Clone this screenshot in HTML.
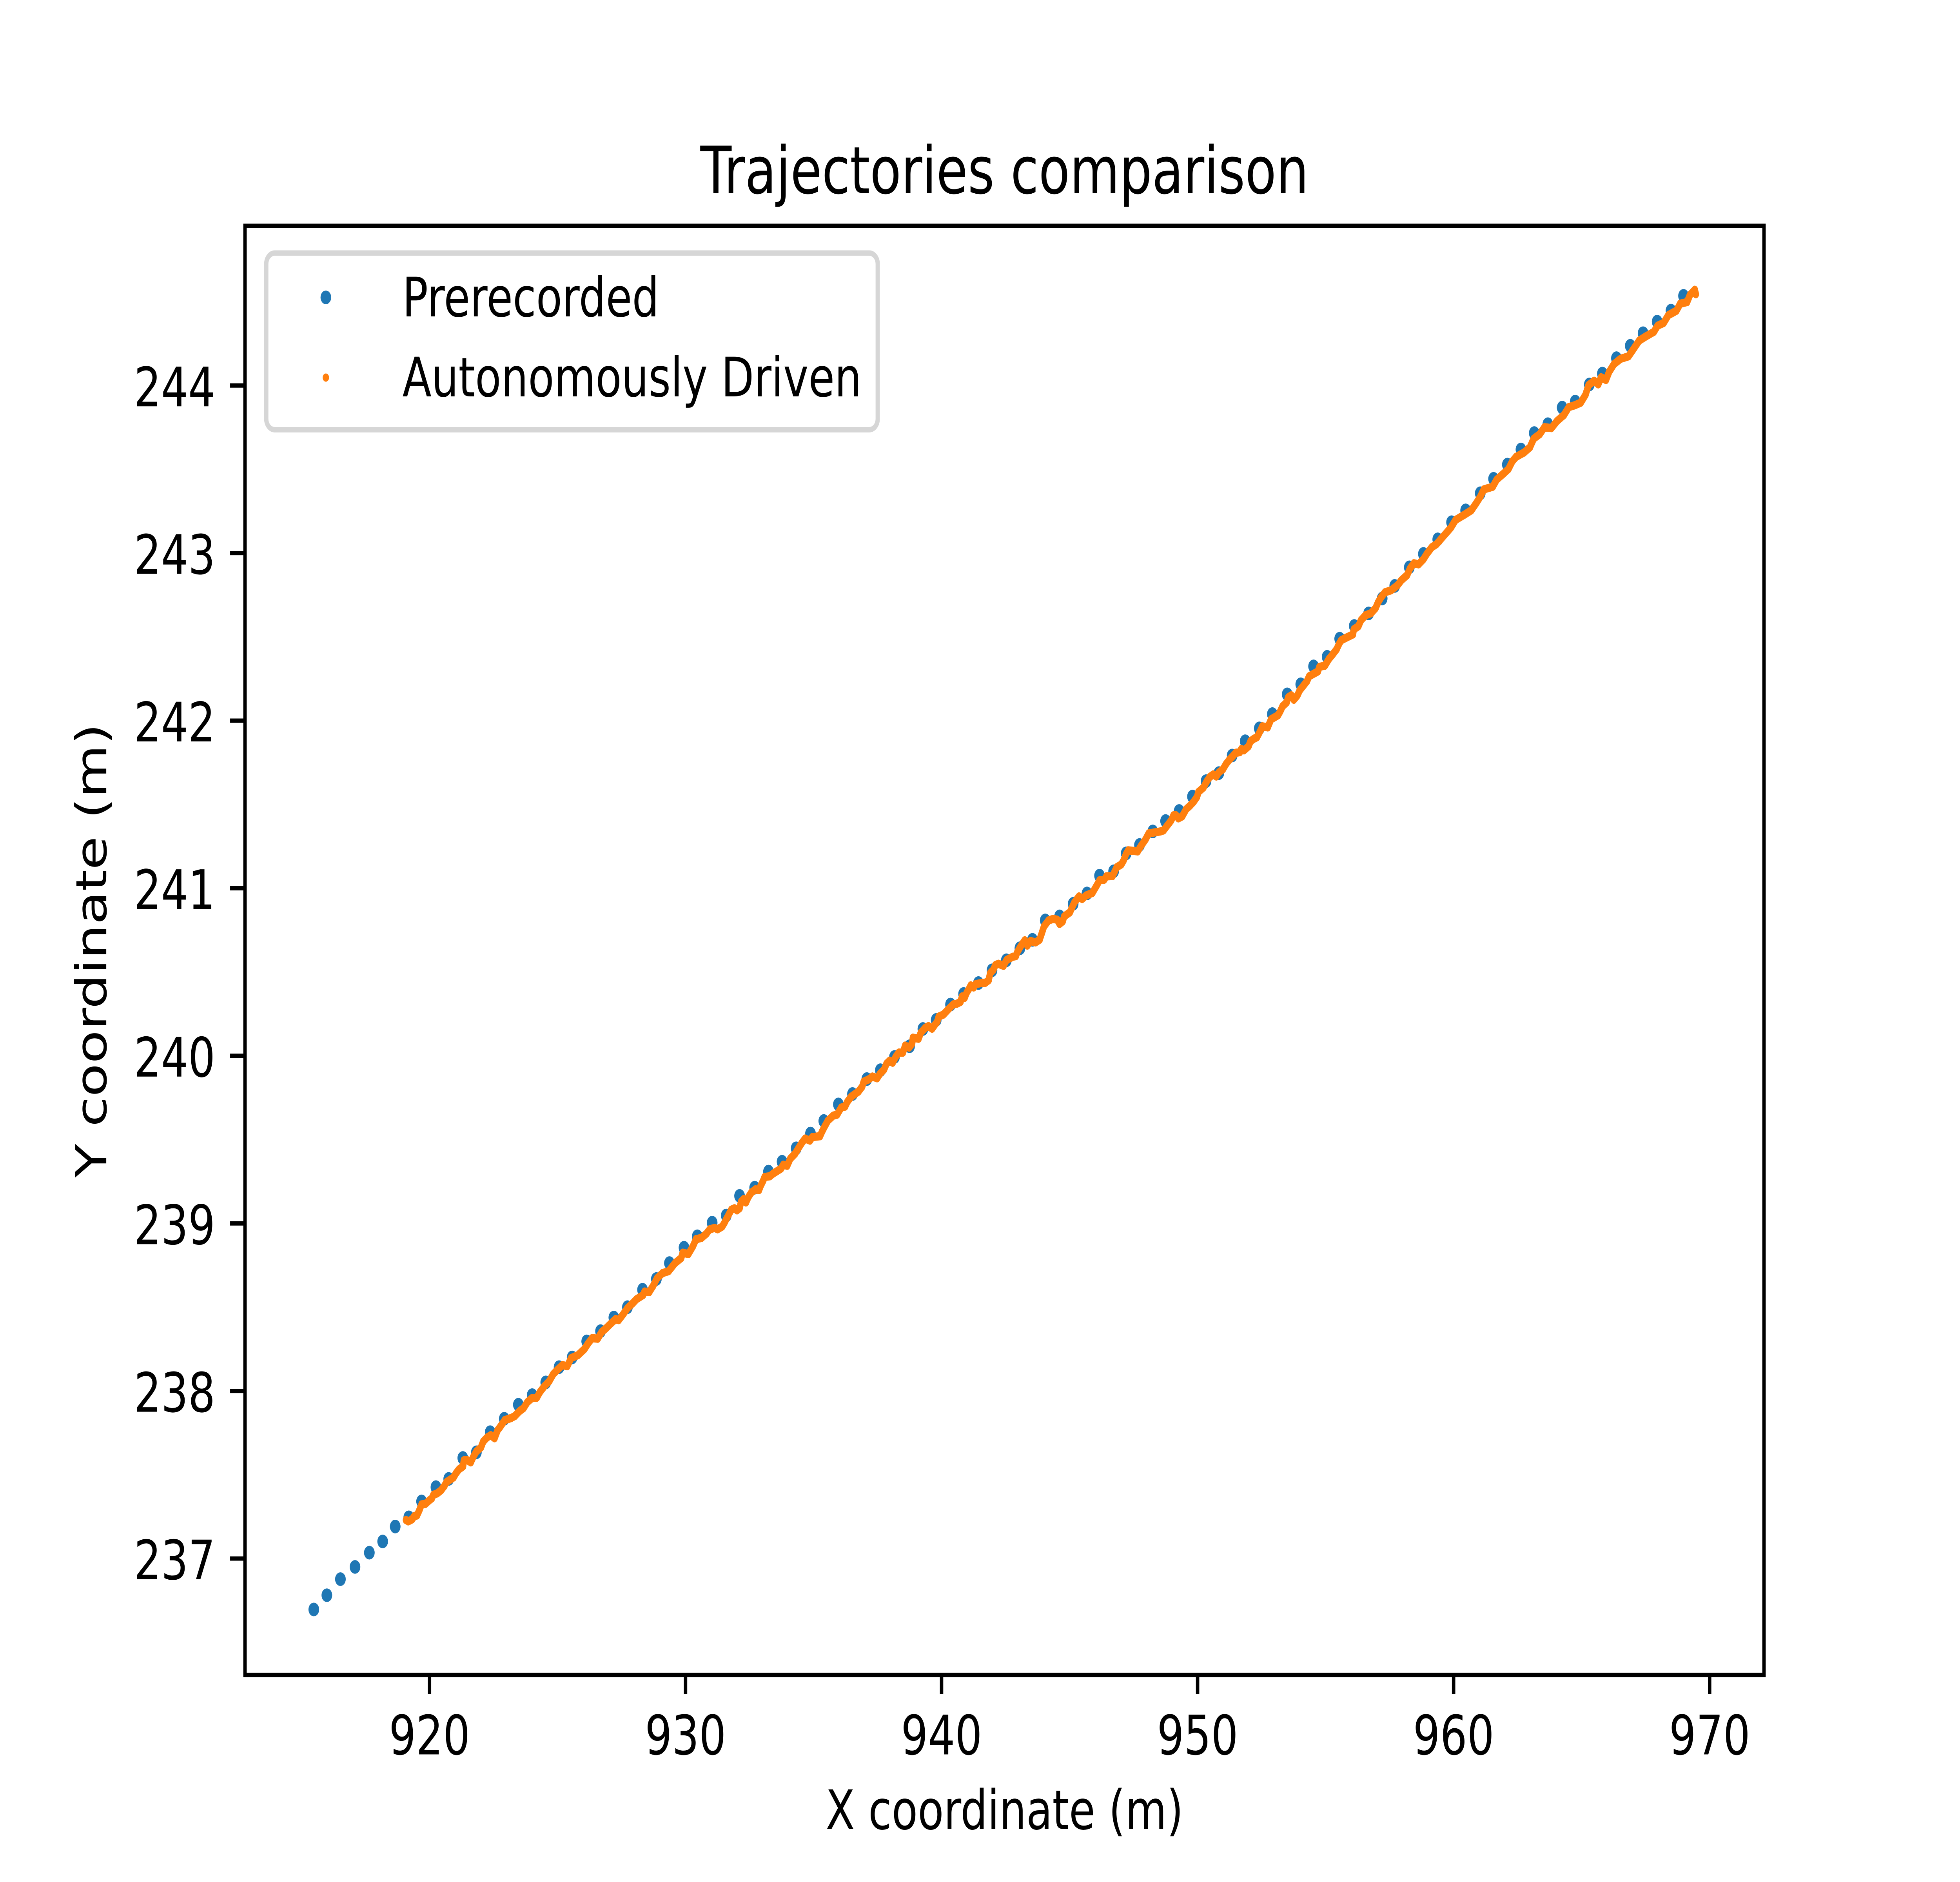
<!DOCTYPE html>
<html lang="en">
<head>
<meta charset="utf-8">
<title>Trajectories comparison</title>
<style>
html,body{margin:0;padding:0;background:#fff;width:100%;height:100%;overflow:hidden}
svg{display:block;position:fixed;left:0;top:0;width:100vw;height:100vh}
text{font-family:"DejaVu Sans","Liberation Sans",sans-serif;fill:#000}
</style>
</head>
<body>
<svg id="chart" xmlns="http://www.w3.org/2000/svg" viewBox="0 0 6400 4800" preserveAspectRatio="none">
<rect x="0" y="0" width="6400" height="4800" fill="#fff"/>
<g id="series"></g>
<rect x="800" y="576" width="4960" height="3696" fill="none" stroke="#000" stroke-width="11.1"/>
<g id="ticks"></g>
<text x="3280" y="493" font-size="166.7" text-anchor="middle">Trajectories comparison</text>
<text x="3280" y="4665" font-size="138.9" text-anchor="middle">X coordinate (m)</text>
<text transform="translate(347 2424) rotate(-90)" font-size="138.9" text-anchor="middle">Y coordinate (m)</text>
<g>
<rect x="869.4" y="645.4" width="1996.6" height="450.6" rx="27.8" ry="27.8" fill="#fff" fill-opacity="0.8" stroke="#ccc" stroke-opacity="0.8" stroke-width="13.9"/>
<circle cx="1064" cy="758.5" r="17.4" fill="#1f77b4"/>
<text x="1314" y="807" font-size="138.9">Prerecorded</text>
<circle cx="1064" cy="963" r="10.5" fill="#ff7f0e"/>
<text x="1314" y="1011" font-size="138.9">Autonomously Driven</text>
</g>
</svg>
<script>
const xTicks = [920, 930, 940, 950, 960, 970];
const yTicks = [237, 238, 239, 240, 241, 242, 243, 244];

const prerecordedX = [
915.48,915.99,916.52,917.09,917.65,918.17,918.66,919.19,919.69,920.25,
920.75,921.30,921.83,922.37,922.92,923.47,924.01,924.54,925.06,925.57,
926.14,926.68,927.20,927.73,928.32,928.86,929.37,929.94,930.46,931.04,
931.59,932.11,932.70,933.24,933.77,934.32,934.88,935.40,935.97,936.52,
937.08,937.61,938.16,938.75,939.27,939.79,940.35,940.86,941.44,941.97,
942.53,943.06,943.55,944.05,944.61,945.14,945.68,946.17,946.72,947.21,
947.73,948.25,948.75,949.28,949.80,950.33,950.83,951.35,951.86,952.41,
952.92,953.50,954.03,954.53,955.06,955.55,956.12,956.68,957.21,957.70,
958.27,958.82,959.38,959.92,960.47,961.04,961.56,962.10,962.63,963.15,
963.68,964.24,964.75,965.30,965.81,966.36,966.90,967.40,967.95,968.49,
968.98];
const prerecordedY = [
236.696,236.781,236.877,236.950,237.035,237.102,237.191,237.246,237.341,237.426,
237.475,237.600,237.634,237.754,237.834,237.918,237.975,238.051,238.142,238.200,
238.296,238.357,238.438,238.500,238.604,238.668,238.763,238.855,238.923,239.004,
239.047,239.164,239.213,239.309,239.368,239.448,239.536,239.611,239.710,239.772,
239.861,239.914,239.993,240.057,240.160,240.214,240.306,240.369,240.434,240.510,
240.570,240.642,240.692,240.808,240.832,240.907,240.969,241.075,241.101,241.208,
241.258,241.339,241.401,241.461,241.547,241.639,241.687,241.792,241.877,241.954,
242.039,242.157,242.217,242.324,242.381,242.489,242.565,242.640,242.729,242.804,
242.915,242.995,243.082,243.184,243.255,243.357,243.443,243.528,243.618,243.716,
243.769,243.868,243.904,244.006,244.071,244.163,244.237,244.312,244.381,244.447,
244.535];

const drivenX = [
919.08,919.17,919.32,919.41,919.51,919.60,919.69,919.84,919.99,920.09,
920.15,920.30,920.45,920.57,920.67,920.94,921.03,921.15,921.31,921.34,
921.49,921.61,921.70,921.83,922.01,922.10,922.25,922.39,922.54,922.66,
922.78,922.94,923.18,923.33,923.52,923.67,923.82,924.00,924.19,924.31,
924.49,924.68,924.83,924.98,925.19,925.38,925.53,925.80,926.05,926.20,
926.35,926.57,926.72,926.90,927.06,927.27,927.39,927.57,927.73,927.94,
928.09,928.34,928.40,928.58,928.73,928.89,929.10,929.34,929.59,929.83,
929.89,930.11,930.29,930.41,930.62,930.81,930.95,931.14,931.25,931.43,
931.52,931.61,931.71,931.79,931.91,932.01,932.11,932.17,932.27,932.36,
932.45,932.57,932.73,932.87,932.93,933.03,933.09,933.29,933.42,933.73,
933.82,933.97,934.09,934.28,934.40,934.55,934.67,934.86,934.95,935.25,
935.33,935.44,935.56,935.77,935.92,936.08,936.23,936.32,936.47,936.75,
936.90,936.96,937.14,937.30,937.48,937.60,937.75,937.85,937.97,938.09,
938.21,938.33,938.49,938.58,938.73,938.85,938.88,939.10,939.19,939.37,
939.49,939.63,939.83,939.89,940.07,940.30,940.46,940.60,940.74,940.80,
940.90,940.98,941.06,941.14,941.25,941.34,941.58,941.70,941.84,941.90,
942.02,942.10,942.22,942.42,942.54,942.78,942.90,942.96,943.06,943.16,
943.25,943.35,943.47,943.67,943.83,943.92,944.00,944.18,944.36,944.52,
944.61,944.73,944.79,945.01,945.10,945.19,945.37,945.49,945.65,945.89,
946.04,946.17,946.35,946.44,946.68,946.84,947.02,947.11,947.20,947.29,
947.66,947.78,947.97,948.09,948.55,948.67,948.85,948.97,949.06,949.16,
949.25,949.40,949.55,949.70,949.84,949.98,950.03,950.23,950.35,950.47,
950.61,950.73,950.83,950.99,951.11,951.23,951.35,951.49,951.65,951.71,
951.81,951.99,952.07,952.21,952.32,952.44,952.53,952.74,952.87,953.14,
953.23,953.32,953.48,953.54,953.66,953.76,953.90,953.99,954.27,954.36,
954.70,954.76,954.97,955.12,955.28,955.43,955.52,955.61,955.83,956.07,
956.10,956.28,956.38,956.56,956.77,956.95,957.05,957.17,957.32,957.56,
957.81,957.96,958.18,958.30,958.45,958.63,958.82,958.97,959.15,959.33,
959.89,960.08,960.42,960.69,960.88,961.03,961.18,961.53,961.68,961.91,
962.14,962.29,962.44,962.75,962.98,963.13,963.36,963.55,963.82,964.04,
964.31,964.50,964.73,964.96,965.15,965.27,965.49,965.65,965.76,965.95,
966.07,966.26,966.52,966.83,967.02,967.25,967.52,967.82,967.97,968.20,
968.39,968.70,968.85,969.12,969.23,969.42,969.46];
const drivenY = [
237.230,237.222,237.234,237.254,237.257,237.287,237.323,237.326,237.347,237.359,
237.380,237.389,237.407,237.431,237.457,237.484,237.508,237.532,237.550,237.586,
237.586,237.574,237.604,237.639,237.663,237.699,237.723,237.736,237.718,237.766,
237.790,237.826,237.838,237.850,237.880,237.897,237.933,237.957,237.960,237.993,
238.029,238.059,238.100,238.124,238.154,238.148,238.196,238.214,238.250,238.285,
238.315,238.312,238.351,238.375,238.399,238.429,238.423,238.459,238.494,238.524,
238.548,238.572,238.593,238.590,238.626,238.673,238.703,238.715,238.763,238.793,
238.825,238.817,238.864,238.906,238.913,238.938,238.965,238.973,238.965,238.981,
239.004,239.031,239.059,239.082,239.090,239.078,239.090,239.129,239.145,239.125,
239.156,239.184,239.203,239.199,239.223,239.254,239.277,239.281,239.297,239.327,
239.350,239.344,239.386,239.416,239.446,239.482,239.506,239.494,239.515,239.520,
239.547,239.580,239.613,239.643,239.649,239.691,239.697,239.726,239.756,239.786,
239.816,239.846,239.858,239.876,239.866,239.894,239.917,239.953,239.971,239.959,
239.995,240.019,240.019,240.061,240.049,240.073,240.108,240.102,240.138,240.168,
240.177,240.162,240.204,240.234,240.246,240.283,240.307,240.311,240.322,240.354,
240.346,240.377,240.396,240.420,240.408,240.428,240.435,240.435,240.451,240.494,
240.513,240.541,240.549,240.537,240.572,240.591,240.595,240.619,240.646,240.669,
240.689,240.658,240.685,240.677,240.693,240.734,240.772,240.808,240.817,240.812,
240.787,240.802,240.832,240.856,240.886,240.916,240.951,240.936,240.957,240.972,
241.011,241.047,241.051,241.071,241.073,241.125,241.142,241.166,241.202,241.226,
241.220,241.250,241.292,241.327,241.339,241.345,241.381,241.405,241.435,241.435,
241.417,241.429,241.471,241.492,241.515,241.546,241.574,241.601,241.636,241.663,
241.679,241.667,241.691,241.710,241.741,241.765,241.784,241.808,241.812,241.831,
241.823,241.847,241.878,241.893,241.901,241.936,241.966,241.960,242.008,242.032,
242.056,242.086,242.109,242.139,242.151,242.125,242.151,242.181,242.235,242.265,
242.294,242.321,242.328,242.366,242.396,242.426,242.456,242.480,242.497,242.515,
242.545,242.563,242.599,242.629,242.641,242.671,242.706,242.736,242.766,242.778,
242.808,242.838,242.868,242.909,242.939,242.933,242.963,242.999,243.035,243.053,
243.151,243.198,243.229,243.255,243.297,243.333,243.380,243.396,243.438,243.469,
243.501,243.547,243.574,243.600,243.631,243.683,243.709,243.751,243.746,243.788,
243.824,243.871,243.882,243.897,243.944,244.002,244.028,244.007,244.049,244.033,
244.080,244.127,244.159,244.174,244.216,244.268,244.294,244.320,244.357,244.373,
244.420,244.446,244.488,244.498,244.540,244.571,244.545];

const SVG_NS = 'http://www.w3.org/2000/svg';
function xAxis(v) { return 1402.5 + (v - 920) * 83.6; }
function yAxis(v) { return 3975 - (v - 237) * 427.4; }

const seriesGroup = document.getElementById('series');
const ticksGroup = document.getElementById('ticks');

prerecordedX.forEach(function (xv, i) {
  const dot = document.createElementNS(SVG_NS, 'circle');
  
  
  dot.setAttribute('cx', xAxis(xv));
  dot.setAttribute('cy', yAxis(prerecordedY[i]));
  dot.setAttribute('r', 17.4);
  dot.setAttribute('fill', '#1f77b4');
  seriesGroup.appendChild(dot);
});

const drivenPath = document.createElementNS(SVG_NS, 'polyline');


drivenPath.setAttribute('points', drivenX.map(function (xv, i) {
  return xAxis(xv) + ',' + yAxis(drivenY[i]);
}).join(' '));
drivenPath.setAttribute('fill', 'none');
drivenPath.setAttribute('stroke', '#ff7f0e');
drivenPath.setAttribute('stroke-width', 21);
drivenPath.setAttribute('stroke-linejoin', 'round');
drivenPath.setAttribute('stroke-linecap', 'round');
seriesGroup.appendChild(drivenPath);

drivenX.forEach(function (xv, i) {
  const dot = document.createElementNS(SVG_NS, 'circle');
  
  
  dot.setAttribute('cx', xAxis(xv));
  dot.setAttribute('cy', yAxis(drivenY[i]));
  dot.setAttribute('r', 10.5);
  dot.setAttribute('fill', '#ff7f0e');
  seriesGroup.appendChild(dot);
});

xTicks.forEach(function (v) {
  const mark = document.createElementNS(SVG_NS, 'line');
  
  
  mark.setAttribute('x1', xAxis(v));
  mark.setAttribute('x2', xAxis(v));
  mark.setAttribute('y1', 4272);
  mark.setAttribute('y2', 4320.6);
  mark.setAttribute('stroke', '#000');
  mark.setAttribute('stroke-width', 11.1);
  ticksGroup.appendChild(mark);
  const label = document.createElementNS(SVG_NS, 'text');
  
  
  label.setAttribute('x', xAxis(v));
  label.setAttribute('y', 4474.5);
  label.setAttribute('font-size', 138.9);
  label.setAttribute('text-anchor', 'middle');
  label.textContent = String(v);
  ticksGroup.appendChild(label);
});

yTicks.forEach(function (v) {
  const mark = document.createElementNS(SVG_NS, 'line');
  
  
  mark.setAttribute('x1', 751.4);
  mark.setAttribute('x2', 800);
  mark.setAttribute('y1', yAxis(v));
  mark.setAttribute('y2', yAxis(v));
  mark.setAttribute('stroke', '#000');
  mark.setAttribute('stroke-width', 11.1);
  ticksGroup.appendChild(mark);
  const label = document.createElementNS(SVG_NS, 'text');
  
  
  label.setAttribute('x', 702.8);
  label.setAttribute('y', yAxis(v) + 53);
  label.setAttribute('font-size', 138.9);
  label.setAttribute('text-anchor', 'end');
  label.textContent = String(v);
  ticksGroup.appendChild(label);
});
</script>
</body>
</html>
